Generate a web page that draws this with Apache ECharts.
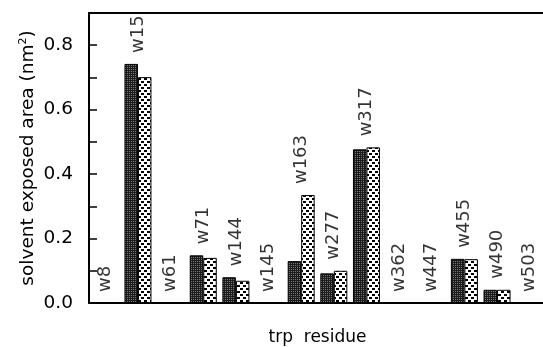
<!DOCTYPE html>
<html>
<head>
<meta charset="utf-8">
<script src="https://cdn.jsdelivr.net/npm/echarts@6/dist/echarts.min.js"></script>
<style>
  html, body { margin: 0; padding: 0; background: #fff; }
  #chart { width: 543px; height: 347px; }
</style>
</head>
<body>
<div id="chart"></div>
<script>
// trp residues and their solvent exposed area (nm^2)
const categories = ['w8', 'w15', 'w61', 'w71', 'w144', 'w145', 'w163', 'w277', 'w317', 'w362', 'w447', 'w455', 'w490', 'w503']
const darkValues = [0, 0.742, 0, 0.148, 0.080, 0, 0.130, 0.092, 0.477, 0, 0, 0.137, 0.041, 0]
const lightValues = [0, 0.701, 0, 0.140, 0.069, 0, 0.335, 0.100, 0.483, 0, 0, 0.136, 0.041, 0]
const yTicks = [0, 0.1, 0.2, 0.3, 0.4, 0.5, 0.6, 0.7, 0.8, 0.9]

const FONT = 'DejaVu Sans'

// bar fill textures
const makePattern = (size, bg, fg, dots) => {
  const c = document.createElement('canvas')
  c.width = size
  c.height = size
  const ctx = c.getContext('2d')
  ctx.fillStyle = bg
  ctx.fillRect(0, 0, size, size)
  ctx.fillStyle = fg
  dots.forEach(d => ctx.fillRect(d[0], d[1], d[2], d[3]))
  return { image: c, repeat: 'repeat' }
}
const darkFill = makePattern(2, '#1c1c1c', '#777', [[1, 1, 1, 1]])
const lightFill = makePattern(6, '#fff', '#000', [[0, 0, 3, 2], [3, 3, 3, 2]])

// label sits above the taller bar of each pair
const labelTops = categories.map((c, i) => [i, Math.max(darkValues[i], lightValues[i])])

const chart = echarts.init(document.getElementById('chart'), null, { renderer: 'canvas' })
chart.setOption({
  animation: false,
  grid: { left: 89, top: 13, right: -3, bottom: 44, containLabel: false, outerBoundsMode: 'none' },
  xAxis: [
    {
      type: 'category',
      data: categories,
      boundaryGap: true,
      name: 'trp  residue',
      nameLocation: 'middle',
      nameGap: 26,
      nameMoveOverlap: false,
      nameTextStyle: { fontFamily: FONT, fontSize: 17, color: '#000' },
      axisLine: { lineStyle: { color: '#000', width: 2 } },
      axisTick: { inside: true, length: 9, lineStyle: { color: '#000', width: 1.5 } },
      axisLabel: { show: false },
      splitLine: { show: false }
    },
    {
      type: 'category',
      data: categories,
      position: 'top',
      axisLine: { show: true, lineStyle: { color: '#000', width: 2 } },
      axisTick: { show: false },
      axisLabel: { show: false },
      splitLine: { show: false }
    }
  ],
  yAxis: {
    type: 'value',
    min: yTicks[0],
    max: yTicks[yTicks.length - 1],
    interval: 0.1,
    name: 'solvent exposed area (nm{sup|2})',
    nameLocation: 'middle',
    nameRotate: 90,
    nameGap: 51,
    nameMoveOverlap: false,
    nameTextStyle: {
      fontFamily: FONT, fontSize: 18.5, color: '#000',
      rich: { sup: { fontFamily: FONT, fontSize: 11, color: '#000', verticalAlign: 'top', padding: [0, 0, 9, 0] } }
    },
    axisLine: { show: true, lineStyle: { color: '#000', width: 2 } },
    axisTick: { show: true, inside: true, length: 8, lineStyle: { color: '#000', width: 1.5 } },
    axisLabel: {
      margin: 16,
      fontFamily: FONT,
      fontSize: 18.5,
      color: '#000',
      formatter: v => (Math.round(v * 10) % 2 === 0 ? v.toFixed(1) : '')
    },
    splitLine: { show: false }
  },
  series: [
    {
      type: 'bar',
      data: darkValues,
      barWidth: 13.5,
      barGap: '0%',
      itemStyle: { color: darkFill, borderColor: '#000', borderWidth: 1 }
    },
    {
      type: 'bar',
      data: lightValues,
      barWidth: 13.5,
      itemStyle: { color: lightFill, borderColor: '#000', borderWidth: 1 }
    },
    {
      type: 'scatter',
      data: labelTops,
      symbolSize: 0,
      silent: true,
      label: {
        show: true,
        position: 'top',
        distance: 11,
        rotate: 90,
        align: 'left',
        verticalAlign: 'middle',
        fontFamily: FONT,
        fontSize: 18,
        color: '#000',
        formatter: p => categories[p.data[0]]
      }
    }
  ]
})
</script>
</body>
</html>
